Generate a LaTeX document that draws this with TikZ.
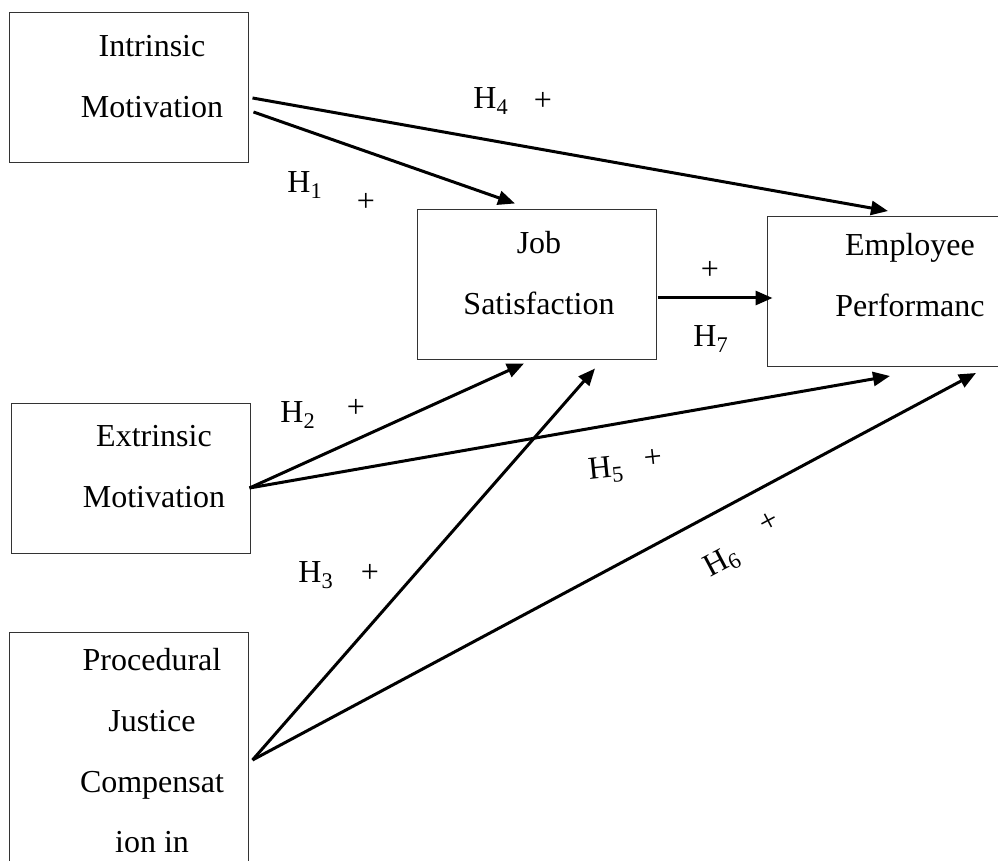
\documentclass[tikz,border=0pt]{standalone}
\usepackage{fontspec}
\setmainfont{Liberation Serif}
\usetikzlibrary{arrows.meta}

\begin{document}
\begin{tikzpicture}[x=0.5pt, y=-0.5pt,
    box/.style={rectangle, draw=black!80, line width=0.5pt, minimum width=119.5pt, minimum height=75pt, inner sep=0pt},
    boxtext/.style={align=center, anchor=base, font=\fontsize{16}{30.5}\selectfont},
    hyp/.style={font=\fontsize{16}{19}\selectfont, inner sep=0pt},
    arr/.style={-{Triangle[length=8.5pt,width=7pt]}, line width=1.5pt}]
            \clip (0,0) rectangle (998,861);

            % constructs
            \node[box] (intr) at (128.5,88) {};
            \node[box] (job) at (536.5,285) {};
            \node[box] (emp) at (886.5,291.5) {};
            \node[box] (ext) at (130.5,478.5) {};
            \node[box, minimum height=125pt] (proc) at (128.5,758) {};

            % text sits on the baseline of its last line
            \node[boxtext] (intrtxt) at (152,118) {Intrinsic\\Motivation};
            \node[boxtext] (jobtxt) at (539,315) {Job\\Satisfaction};
            \node[boxtext] (emptxt) at (910,317) {Employee\\Performanc};
            \node[boxtext] (exttxt) at (154,508) {Extrinsic\\Motivation};
            \node[boxtext] (proctxt) at (152,853) {Procedural\\Justice\\Compensat\\ion in};

            % paths
            \draw[arr] ([shift={(4,10)}]intr.east) -- ([shift={(1.5,-5)}]emp.north);
            \draw[arr] ([shift={(5,24)}]intr.east) -- ([shift={(-21.5,-6)}]job.north);
            \draw[arr] ([shift={(1,13)}]job.east) -- ([shift={(6,6.5)}]emp.west);
            \draw[arr] ([shift={(-1,9.5)}]ext.east) -- ([shift={(-12.5,3)}]job.south);
            \draw[arr] ([shift={(-1,9.5)}]ext.east) -- ([shift={(3.5,9)}]emp.south);
            \draw[arr] ([shift={(4,2)}]proc.east) -- ([shift={(58.5,8)}]job.south);
            \draw[arr] ([shift={(4,2)}]proc.east) -- ([shift={(89.5,6)}]emp.south);

            % hypotheses
            \node[hyp, anchor=base west] (h4) at (473,109) {H\textsubscript{4}};
            \node[hyp] (p4) at (543,101) {+};
            \node[hyp, anchor=base west] (h1) at (287,193) {H\textsubscript{1}};
            \node[hyp] (p1) at (366,202) {+};
            \node[hyp] (p7) at (710,270) {+};
            \node[hyp, anchor=base west] (h7) at (693,347) {H\textsubscript{7}};
            \node[hyp, anchor=base west] (h2) at (280,423) {H\textsubscript{2}};
            \node[hyp] (p2) at (356,408) {+};
            \node[hyp, anchor=base west] (h3) at (298,583) {H\textsubscript{3}};
            \node[hyp] (p3) at (370,573) {+};
            \node[hyp, anchor=base west, rotate=6] (h5) at (589,480) {H\textsubscript{5}};
            \node[hyp, rotate=6] (p5) at (653,459) {+};
            \node[hyp, rotate=28] (h6) at (722,562) {H\textsubscript{6}};
            \node[hyp, rotate=28] (p6) at (769,522) {+};
        \end{tikzpicture}
\end{document}
